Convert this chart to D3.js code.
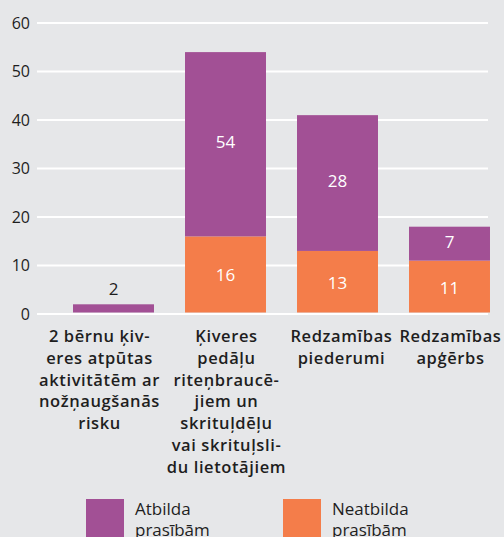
<!DOCTYPE html>
<html><head><meta charset="utf-8">
<script src="https://cdn.jsdelivr.net/npm/d3@7"></script>
<style>
html,body{margin:0;padding:0;background:#e6e7e9;}
svg{display:block;font-family:"Open Sans","Noto Sans",sans-serif;}
</style></head>
<body>
<svg id="c" width="504" height="537"></svg>
<script>
const categories = [
  ["2 bērnu ķiv-","eres atpūtas","aktivitātēm ar","nožņaugšanās","risku"],
  ["Ķiveres","pedāļu","riteņbraucē-","jiem un","skrituļdēļu","vai skrituļsli-","du lietotājiem"],
  ["Redzamības","piederumi"],
  ["Redzamības","apģērbs"]
];
const neatbilda = [0, 16, 13, 11];       // orange segment (bottom)
const atbilda = [2, 38, 28, 7];          // purple segment height as drawn
const atbildaLabels = ["2", "54", "28", "7"];
const neatbildaLabels = ["", "16", "13", "11"];
const yTicks = [0, 10, 20, 30, 40, 50, 60];
const legendItems = [["Atbilda","prasībām"],["Neatbilda","prasībām"]];

const colPurple = "#a25095", colOrange = "#f47d4a", colText = "#1e1e1e";
const svg = d3.select("#c");
const ids = categories.map((d,i)=>i);
const x = d3.scaleBand().domain(ids).range([57.5, 505.5]).paddingInner(0.277).paddingOuter(0.1385);
const y = d3.scaleLinear().domain([0, 60]).range([314, 23]);

// gridlines
svg.append("g").selectAll("line").data(yTicks).join("line")
  .attr("x1", 37).attr("x2", 488)
  .attr("y1", d => y(d)).attr("y2", d => y(d))
  .attr("stroke", "#ffffff").attr("stroke-width", 2);
// y tick labels
svg.append("g").selectAll("text").data(yTicks).join("text")
  .attr("x", 30).attr("y", d => y(d)).attr("dy", "0.35em")
  .attr("text-anchor", "end").attr("font-size", 16).attr("fill", colText)
  .text(d => d);

const base = y(0) - 1.5;
// orange
svg.append("g").selectAll("rect").data(ids.filter(i => neatbilda[i] > 0)).join("rect")
  .attr("x", i => x(i)).attr("width", x.bandwidth())
  .attr("y", i => y(neatbilda[i])).attr("height", i => base - y(neatbilda[i]))
  .attr("fill", colOrange);
// purple
svg.append("g").selectAll("rect").data(ids).join("rect")
  .attr("x", i => x(i)).attr("width", x.bandwidth())
  .attr("y", i => y(neatbilda[i] + atbilda[i]))
  .attr("height", i => (neatbilda[i] > 0 ? y(neatbilda[i]) : base) - y(neatbilda[i] + atbilda[i]))
  .attr("fill", colPurple);

// value labels
const cx = i => x(i) + x.bandwidth() / 2;
svg.append("g").selectAll("text").data(ids).join("text")
  .attr("x", cx)
  .attr("y", i => atbilda[i] < 4 ? y(neatbilda[i] + atbilda[i]) - 15
        : (y(neatbilda[i]) + y(neatbilda[i] + atbilda[i])) / 2 - 2)
  .attr("dy", "0.35em").attr("text-anchor", "middle").attr("font-size", 17)
  .attr("fill", i => atbilda[i] < 4 ? colText : "#ffffff")
  .text(i => atbildaLabels[i]);
svg.append("g").selectAll("text").data(ids.filter(i => neatbilda[i] > 0)).join("text")
  .attr("x", cx)
  .attr("y", i => (y(neatbilda[i]) + base) / 2 + 1)
  .attr("dy", "0.35em").attr("text-anchor", "middle").attr("font-size", 17)
  .attr("fill", "#ffffff")
  .text(i => neatbildaLabels[i]);

// category labels
const catG = svg.append("g");
const lblX = i => cx(i) + (i === 0 ? -14 : (i === 2 ? 4 : 1));
ids.forEach(i => {
  const t = catG.append("text")
    .attr("x", lblX(i)).attr("y", 342).attr("text-anchor", "middle")
    .attr("font-size", 16.5).attr("font-weight", 600).attr("letter-spacing", 0.6).attr("fill", colText);
  categories[i].forEach((line, k) => {
    t.append("tspan").attr("x", lblX(i)).attr("dy", k === 0 ? 0 : 21.8).text(line);
  });
});

// legend
const lx = [86, 283], lc = [colPurple, colOrange];
legendItems.forEach((lines, j) => {
  svg.append("rect").attr("x", lx[j]).attr("y", 499).attr("width", 38).attr("height", 40).attr("fill", lc[j]);
  const t = svg.append("text").attr("x", lx[j] + 49).attr("y", 515)
    .attr("font-size", 17).attr("fill", colText);
  lines.forEach((line, k) => t.append("tspan").attr("x", lx[j] + 49).attr("dy", k === 0 ? 0 : 21).text(line));
});
</script>
</body></html>
